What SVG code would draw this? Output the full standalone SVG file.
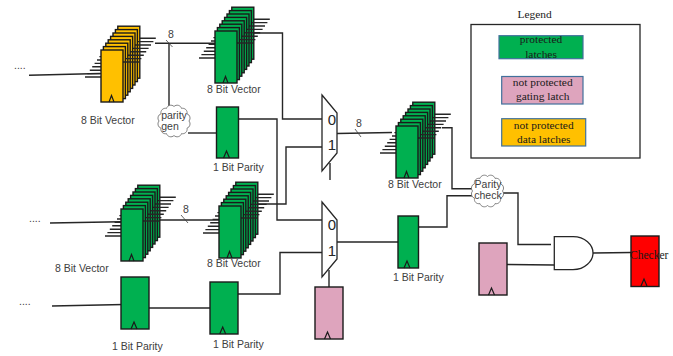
<svg xmlns="http://www.w3.org/2000/svg" xmlns:xlink="http://www.w3.org/1999/xlink" width="673" height="356" viewBox="0 0 673 356">
<style>
text{font-family:"Liberation Sans",Arial,sans-serif;font-size:10.5px;fill:#404040}
.serif{font-family:"Liberation Serif","Times New Roman",serif;fill:#1a1a1a}
.leg{font-size:11.4px;text-anchor:middle}
.m{font-size:15px;text-anchor:middle;fill:#262626}
.c{text-anchor:middle}
.latch{stroke:#1a1a1a;stroke-width:1.4}
.clk{fill:none;stroke:#1a1a1a;stroke-width:1.2}
.wire{fill:none;stroke:#262626;stroke-width:1.4}
.tick{fill:none;stroke:#404040;stroke-width:.8}
.lb{stroke:#41719c;stroke-width:1.2}
.g{fill:#00b050}.y{fill:#ffc000}.p{fill:#dea4bd}.r{fill:#ff0000}
.cloud{fill:#fff;stroke:#666;stroke-width:.8}
.gate{fill:#fff;stroke:#262626;stroke-width:1.3}
</style>
<defs>
<g id="layer">
<path class="wire" d="M-16 27H0M22 12H38"/>
<rect class="latch" width="22" height="52"/>
</g>
<g id="stack">
<use xlink:href="#layer" x="16.8" y="-23.8"/>
<use xlink:href="#layer" x="14.4" y="-20.4"/>
<use xlink:href="#layer" x="12" y="-17"/>
<use xlink:href="#layer" x="9.6" y="-13.6"/>
<use xlink:href="#layer" x="7.2" y="-10.2"/>
<use xlink:href="#layer" x="4.8" y="-6.8"/>
<use xlink:href="#layer" x="2.4" y="-3.4"/>
<use xlink:href="#layer"/>
<path class="clk" d="M8 52L10.5 45.500L13 52"/>
</g>
<path id="tri" class="clk" d="M-3 0L0 -7L3 0"/>
<path id="cloud" class="cloud" d="M16 1.500A4.500 4.500 0 0 1 23.500 3.400A4.500 4.500 0 0 1 29 8.800A4.500 4.500 0 0 1 31 16A4.500 4.500 0 0 1 29 23.200A4.500 4.500 0 0 1 23.500 28.600A4.500 4.500 0 0 1 16 30.500A4.500 4.500 0 0 1 8.500 28.600A4.500 4.500 0 0 1 3 23.200A4.500 4.500 0 0 1 1 16A4.500 4.500 0 0 1 3 8.800A4.500 4.500 0 0 1 8.500 3.400A4.500 4.500 0 0 1 16 1.500Z"/>
</defs>

<g id="connectors">
<path class="wire" d="M29 75.300L100 73.500"/>
<path class="wire" d="M155 43.300H215"/>
<path class="wire" d="M169 43.300V107"/>
<path class="wire" d="M188 133H216"/>
<path class="wire" d="M238 119H277V220H322"/>
<path class="wire" d="M248 33H282.500V119H322"/>
<path class="wire" d="M50 223L121 221.700"/>
<path class="wire" d="M143 220H219"/>
<path class="wire" d="M252 204H286V147H322"/>
<path class="wire" d="M52 306L124 304.500"/>
<path class="wire" d="M149 308H210"/>
<path class="wire" d="M238 294H280V252.500H322"/>
<path class="wire" d="M337 133.500L392 132.500"/>
<path class="wire" d="M330 163V180"/>
<path class="wire" d="M329 270V287"/>
<path class="wire" d="M337 242H398"/>
<path class="wire" d="M442 127.700H452V188.700H472"/>
<path class="wire" d="M418 227H447V195.700H472"/>
<path class="wire" d="M502 193H518V244.500H551"/>
<path class="wire" d="M507 264.500L554 265"/>
<path class="wire" d="M593 253L631 252.500"/>
<path class="tick" d="M166 40L172.500 47"/>
<path class="tick" d="M181 215L188 223"/>
<path class="tick" d="M355 129L361 137"/>
</g>

<g id="in-dots-1"><text x="14" y="68.500">....</text></g>
<g id="in-dots-2"><text x="29" y="221.500">....</text></g>
<g id="in-dots-3"><text x="19" y="304.500">....</text></g>
<g id="bus-label-1"><text x="171" y="38" class="c">8</text></g>
<g id="bus-label-2"><text x="186" y="213" class="c">8</text></g>
<g id="bus-label-3"><text x="359" y="127" class="c">8</text></g>

<g id="yellow-vector"><use xlink:href="#stack" x="101" y="50" class="y"/><text x="81" y="124">8 Bit Vector</text></g>
<g id="green-vector-top"><use xlink:href="#stack" x="215" y="31" class="g"/><text x="207" y="93">8 Bit Vector</text></g>
<g id="green-vector-left"><use xlink:href="#stack" x="121" y="209" class="g"/><text x="55" y="272">8 Bit Vector</text></g>
<g id="green-vector-mid"><use xlink:href="#stack" x="219" y="206" class="g"/><text x="207" y="267">8 Bit Vector</text></g>
<g id="green-vector-right"><use xlink:href="#stack" x="396" y="126" class="g"/><text x="388" y="188">8 Bit Vector</text></g>

<g id="parity-gen"><use xlink:href="#cloud" x="158" y="105"/><text x="174" y="119" class="c">parity</text><text x="170" y="130" class="c">gen</text></g>
<g id="parity-top"><rect class="latch g" x="216.500" y="107" width="22" height="51"/><use xlink:href="#tri" x="226.500" y="158"/><text x="213" y="171">1 Bit Parity</text></g>
<g id="parity-left"><rect class="latch g" x="121" y="277" width="28" height="52"/><use xlink:href="#tri" x="134" y="329"/><text x="112" y="350">1 Bit Parity</text></g>
<g id="parity-mid"><rect class="latch g" x="210" y="282" width="28" height="52"/><use xlink:href="#tri" x="222.700" y="334"/><text x="213" y="348">1 Bit Parity</text></g>
<g id="parity-right"><rect class="latch g" x="398" y="216" width="20.500" height="52"/><use xlink:href="#tri" x="407" y="268"/><text x="393" y="281">1 Bit Parity</text></g>

<g id="mux-top"><path class="gate" d="M322 95L337 113V153L322 171Z"/><text x="332" y="124.500" class="m">0</text><text x="332" y="150" class="m">1</text></g>
<g id="mux-bottom"><path class="gate" d="M322 202L337 220V259L322 277Z"/><text x="332" y="229.500" class="m">0</text><text x="332" y="255.500" class="m">1</text></g>

<g id="gate-latch-mux"><rect class="latch p" x="315" y="287" width="28" height="52"/><use xlink:href="#tri" x="327.500" y="339"/></g>
<g id="gate-latch-and"><rect class="latch p" x="479" y="243" width="28" height="52"/><use xlink:href="#tri" x="491.500" y="295"/></g>

<g id="parity-check"><use xlink:href="#cloud" x="471.500" y="175"/><text x="488" y="188" class="c">Parity</text><text x="488" y="199" class="c">check</text></g>
<g id="and-gate"><path class="gate" d="M554.300 236.700H573C585 236.700 593 245 593 253C593 261 585 269.700 573 269.700H554.300Z"/></g>
<g id="checker"><rect class="latch r" x="631" y="236" width="28" height="50.500"/><use xlink:href="#tri" x="644" y="286"/><text x="630" y="259" class="serif" style="font-size:11.500px">Checker</text></g>

<g id="legend">
<text x="534.500" y="18" class="serif leg">Legend</text>
<rect x="471" y="24.500" width="169" height="133.500" fill="none" stroke="#262626" stroke-width="1.300"/>
<rect class="lb g" x="499" y="35.700" width="84" height="23"/>
<text x="541" y="43" class="serif leg">protected</text><text x="541" y="58" class="serif leg">latches</text>
<rect class="lb p" x="501.700" y="76.500" width="81.300" height="27.500"/>
<text x="542.700" y="86" class="serif leg">not protected</text><text x="542.700" y="100" class="serif leg">gating latch</text>
<rect class="lb y" x="501.700" y="118.700" width="84" height="27.300"/>
<text x="543.700" y="129" class="serif leg">not protected</text><text x="543.700" y="143" class="serif leg">data latches</text>
</g>
</svg>
